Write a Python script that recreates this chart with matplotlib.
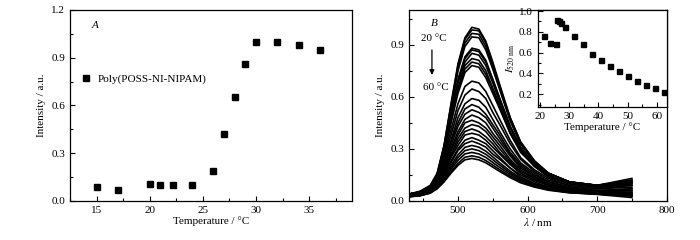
import matplotlib
matplotlib.use('Agg')
import matplotlib.pyplot as plt
from matplotlib.ticker import MultipleLocator

plt.rcParams['font.family'] = ['Liberation Serif', 'DejaVu Serif']
plt.rcParams['mathtext.fontset'] = 'stix'
plt.rcParams['font.size'] = 8

# panel A: intensity vs temperature
temp_a = [15, 17, 20, 21, 22.2, 24, 26, 27, 28, 29, 30, 32, 34, 36]
intensity_a = [0.088, 0.069, 0.105, 0.10, 0.098, 0.098, 0.188, 0.423, 0.655,
               0.859, 1.0, 1.0, 0.982, 0.951]

# panel B: emission spectra from 20 C (top) to 60 C (bottom)
wavelength = [430, 445, 460, 470, 480, 490, 500, 510, 520, 530, 540, 550, 560,
              575, 590, 610, 630, 660, 700, 750]
spectra = [
    [.04, .055, .09, .16, .32, .56, .79, .94, 1.0, .99, .92, .80, .67, .48, .34, .23, .16, .11, .09, .13],
    [.04, .055, .08, .15, .32, .55, .78, .93, .985, .98, .91, .79, .66, .48, .34, .23, .16, .11, .09, .12],
    [.04, .05, .08, .15, .31, .54, .76, .91, .965, .96, .89, .77, .65, .47, .33, .23, .16, .11, .09, .11],
    [.04, .05, .08, .15, .31, .53, .75, .89, .945, .94, .87, .76, .64, .46, .33, .22, .16, .11, .08, .10],
    [.04, .05, .08, .15, .30, .50, .70, .83, .88, .87, .81, .70, .59, .43, .31, .21, .15, .11, .09, .12],
    [.04, .05, .08, .15, .29, .50, .69, .82, .87, .86, .80, .70, .59, .43, .31, .21, .15, .11, .08, .10],
    [.04, .05, .08, .15, .29, .49, .68, .80, .85, .84, .78, .68, .57, .42, .30, .21, .15, .11, .09, .11],
    [.04, .05, .08, .14, .28, .47, .65, .78, .82, .81, .75, .65, .55, .40, .29, .20, .14, .10, .08, .10],
    [.04, .05, .08, .14, .28, .46, .64, .76, .80, .79, .73, .64, .54, .39, .29, .20, .14, .10, .08, .09],
    [.04, .05, .08, .14, .27, .45, .62, .74, .78, .77, .71, .62, .53, .39, .28, .20, .14, .10, .08, .11],
    [.035, .045, .08, .13, .25, .41, .56, .66, .69, .68, .63, .55, .47, .35, .25, .18, .13, .09, .07, .09],
    [.035, .04, .07, .13, .24, .38, .52, .61, .645, .63, .59, .51, .44, .33, .24, .17, .12, .09, .07, .08],
    [.033, .04, .07, .12, .22, .35, .48, .56, .59, .58, .54, .47, .40, .30, .22, .16, .11, .08, .06, .07],
    [.033, .04, .07, .12, .21, .34, .45, .53, .555, .54, .50, .44, .38, .28, .21, .15, .11, .08, .06, .06],
    [.032, .04, .07, .11, .20, .32, .43, .50, .525, .51, .48, .42, .36, .27, .20, .14, .11, .08, .06, .07],
    [.031, .04, .06, .11, .19, .30, .40, .47, .495, .48, .45, .39, .34, .26, .19, .14, .10, .07, .05, .05],
    [.03, .04, .06, .11, .18, .29, .38, .45, .465, .45, .42, .37, .32, .24, .18, .13, .10, .07, .05, .06],
    [.03, .04, .06, .10, .18, .27, .36, .42, .44, .43, .40, .35, .30, .23, .17, .13, .09, .07, .05, .04],
    [.03, .04, .06, .10, .17, .26, .34, .40, .415, .40, .37, .33, .28, .22, .16, .12, .09, .07, .05, .05],
    [.028, .035, .06, .10, .16, .25, .32, .38, .39, .38, .35, .31, .27, .21, .16, .12, .09, .06, .05, .04],
    [.027, .034, .055, .09, .15, .23, .30, .35, .365, .35, .33, .29, .25, .19, .15, .11, .08, .06, .045, .035],
    [.027, .033, .054, .09, .15, .22, .29, .33, .345, .33, .31, .27, .24, .19, .14, .10, .08, .06, .045, .03],
    [.027, .033, .052, .084, .137, .205, .266, .309, .32, .31, .287, .254, .22, .172, .132, .099, .075, .055, .042, .04],
    [.026, .032, .05, .081, .131, .193, .25, .29, .30, .29, .269, .238, .207, .162, .125, .094, .072, .053, .04, .03],
    [.025, .031, .048, .077, .123, .182, .234, .271, .28, .271, .251, .222, .193, .153, .118, .089, .068, .05, .04, .035],
    [.025, .03, .046, .073, .116, .169, .217, .252, .26, .252, .233, .207, .18, .143, .111, .084, .065, .049, .038, .02],
    [.025, .03, .045, .07, .11, .16, .205, .237, .245, .237, .22, .195, .17, .135, .105, .08, .062, .047, .04, .03],
]

# inset: I at 520 nm vs temperature
temp_inset = [21.4, 23.4, 25.5, 25.9, 26.4, 27.1, 28.6, 31.6, 34.7, 37.7, 40.8,
              43.9, 47.0, 50.0, 53.1, 56.2, 59.3, 62.4]
i520 = [0.76, 0.69, 0.684, 0.913, 0.906, 0.887, 0.842, 0.76, 0.68, 0.585, 0.525,
        0.47, 0.42, 0.38, 0.33, 0.29, 0.26, 0.225]

fig = plt.figure(figsize=(7, 2.4), dpi=100)


def style_axis(ax):
    ax.tick_params(which='both', direction='in', top=False, right=False, labelsize=8)
    ax.tick_params(which='major', length=3.5, width=0.8)
    ax.tick_params(which='minor', length=2, width=0.8)
    for s in ax.spines.values():
        s.set_linewidth(0.9)


# --- panel A ---
ax1 = fig.add_axes([0.1, 0.1625, 0.4024, 0.796])
ax1.plot(temp_a, intensity_a, 's', color='black', ms=4.3, label='Poly(POSS-NI-NIPAM)')
ax1.set_xlim(12.5, 39)
ax1.set_ylim(0, 1.2)
ax1.xaxis.set_major_locator(MultipleLocator(5))
ax1.xaxis.set_minor_locator(MultipleLocator(2.5))
ax1.yaxis.set_major_locator(MultipleLocator(0.3))
ax1.yaxis.set_minor_locator(MultipleLocator(0.15))
ax1.yaxis.set_major_formatter(plt.FormatStrFormatter('%.1f'))
ax1.set_xlabel('Temperature / °C', labelpad=1)
ax1.set_ylabel('Intensity / a.u.')
ax1.legend(loc='center left', bbox_to_anchor=(0.022, 0.64), frameon=False,
           handlelength=1.0, handletextpad=0.5, borderaxespad=0, fontsize=8)
ax1.text(0.089, 0.92, 'A', transform=ax1.transAxes, fontstyle='italic',
         ha='center', va='center', fontsize=8)
style_axis(ax1)

# --- panel B ---
ax2 = fig.add_axes([0.5847, 0.1625, 0.3677, 0.796])
for s in spectra:
    ax2.plot(wavelength, s, color='black', lw=1.2)
ax2.set_xlim(430, 800)
ax2.set_ylim(0, 1.1)
ax2.xaxis.set_major_locator(MultipleLocator(100))
ax2.xaxis.set_minor_locator(MultipleLocator(50))
ax2.yaxis.set_major_locator(MultipleLocator(0.3))
ax2.yaxis.set_minor_locator(MultipleLocator(0.15))
ax2.yaxis.set_major_formatter(plt.FormatStrFormatter('%.1f'))
ax2.set_xlabel(r'$\lambda$ / nm', labelpad=1)
ax2.set_ylabel('Intensity / a.u.')
ax2.text(0.096, 0.927, 'B', transform=ax2.transAxes, fontstyle='italic',
         ha='center', va='center', fontsize=8)
ax2.text(0.095, 0.85, '20 °C', transform=ax2.transAxes, ha='center', va='center', fontsize=8)
ax2.text(0.103, 0.595, '60 °C', transform=ax2.transAxes, ha='center', va='center', fontsize=8)
ax2.annotate('', xy=(0.088, 0.645), xytext=(0.088, 0.805), xycoords='axes fraction',
             arrowprops=dict(arrowstyle='-|>', color='black', lw=0.9, mutation_scale=7))
style_axis(ax2)

# --- inset ---
ax3 = fig.add_axes([0.7679, 0.5554, 0.1846, 0.4029])
ax3.set_facecolor('white')
ax3.plot(temp_inset, i520, 's', color='black', ms=3.6, clip_on=True)
ax3.set_xlim(19.1, 63.4)
ax3.set_ylim(0.08, 1.01)
ax3.xaxis.set_major_locator(MultipleLocator(10))
ax3.xaxis.set_minor_locator(MultipleLocator(5))
ax3.yaxis.set_major_locator(MultipleLocator(0.2))
ax3.yaxis.set_minor_locator(MultipleLocator(0.1))
ax3.yaxis.set_major_formatter(plt.FormatStrFormatter('%.1f'))
ax3.set_xlabel('Temperature / °C', labelpad=1)
ax3.set_ylabel(r'$I_{520\ \mathrm{nm}}$', labelpad=1)
style_axis(ax3)

fig.savefig('out.png', dpi=100)
